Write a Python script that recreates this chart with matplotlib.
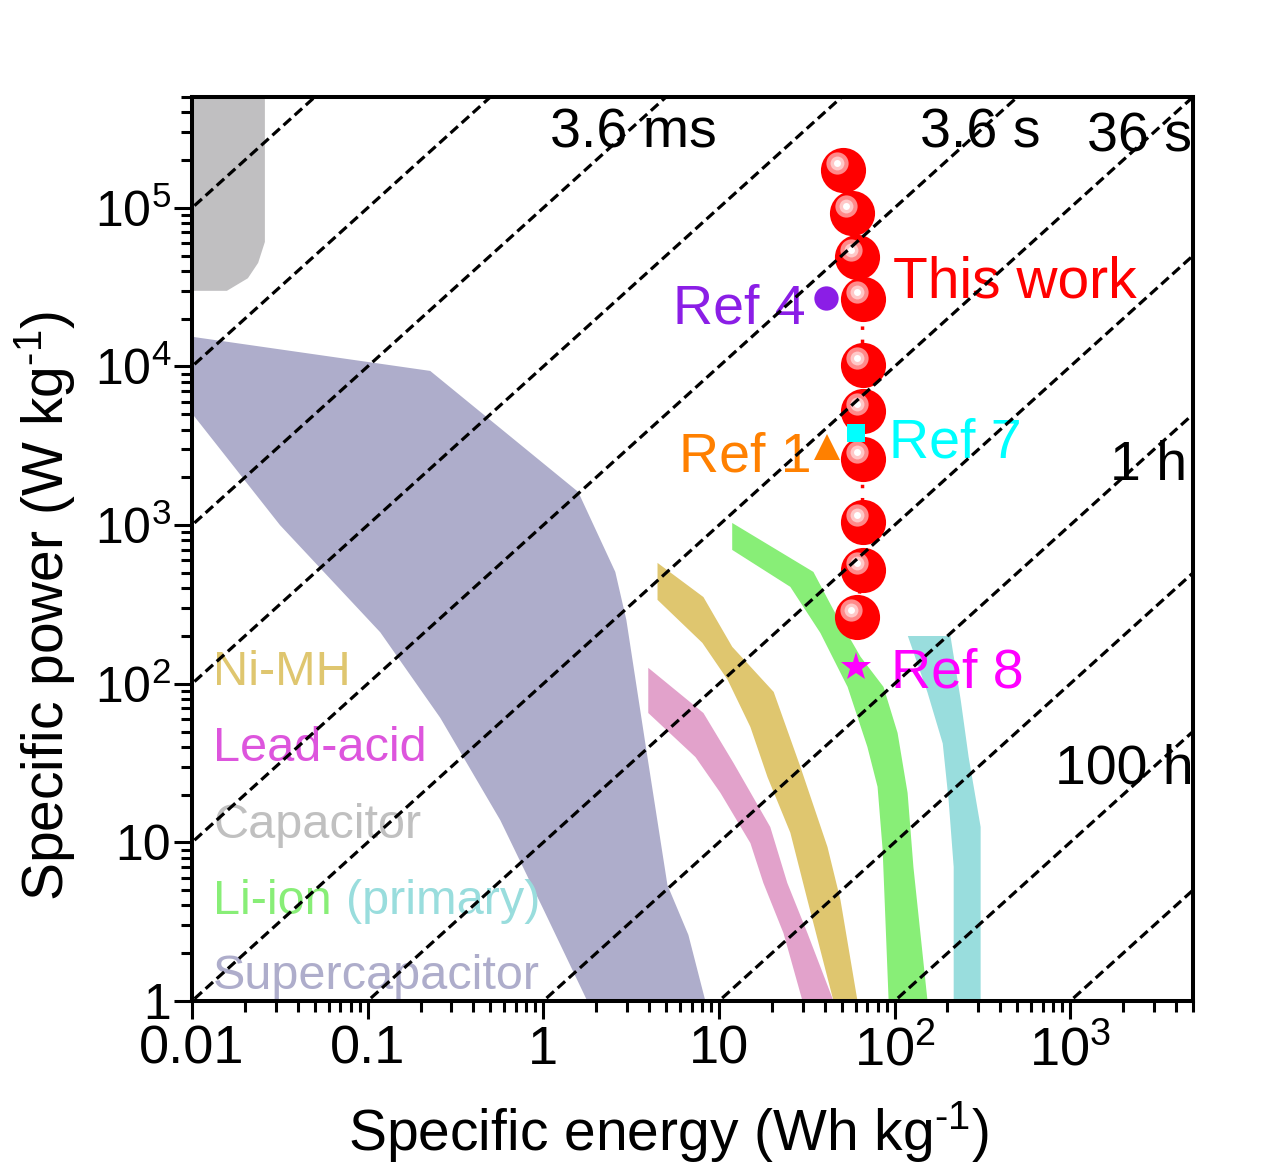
import numpy as np
import matplotlib
matplotlib.use("Agg")
import matplotlib.pyplot as plt
from matplotlib.transforms import ScaledTranslation
from matplotlib.ticker import LogLocator, NullFormatter, FixedLocator, FixedFormatter

plt.rcParams['font.family'] = ['Liberation Sans', 'DejaVu Sans']
plt.rcParams['mathtext.fontset'] = 'custom'
plt.rcParams['mathtext.rm'] = 'Liberation Sans'
plt.rcParams['mathtext.it'] = 'Liberation Sans:italic'
plt.rcParams['mathtext.default'] = 'regular'
plt.rcParams['lines.scale_dashes'] = False

# ---------------- data (E in Wh/kg, P in W/kg) ----------------
cap_E = [0.01, 0.026, 0.026, 0.0238, 0.0208, 0.0158, 0.01]
cap_P = [1e6, 1e6, 6.1e4, 4.5e4, 3.6e4, 3.0e4, 3.0e4]

sc_upper_E = [0.01, 0.227, 1.58, 2.57, 2.97, 3.86, 5.09, 6.70, 8.37]
sc_upper_P = [1.54e4, 9380, 1620, 507, 253, 38.3, 5.39, 2.61, 1]
sc_lower_E = [0.01, 0.0317, 0.118, 0.259, 0.569, 1.0, 1.78]
sc_lower_P = [5060, 1000, 211, 61, 13.8, 3.8, 1]

nimh_upper_E = [4.47, 8.16, 11.9, 20.5, 29.1, 41.5, 49.2, 61.5]
nimh_upper_P = [578, 352, 171, 88.8, 29.9, 9.35, 4.33, 1]
nimh_lower_E = [4.47, 8.05, 11.2, 15.1, 18.9, 25.5, 31.9, 44.9]
nimh_lower_P = [338, 181, 106, 53.4, 25.8, 11.5, 4.33, 1]

pb_upper_E = [3.96, 8.16, 12.1, 19.6, 24.5, 31.9, 44.9]
pb_upper_P = [126, 65.4, 31.7, 12.5, 5.55, 2.68, 1]
pb_lower_E = [3.96, 7.35, 10.2, 15.1, 17.9, 23.3, 29.9]
pb_lower_P = [65.4, 34.5, 20.5, 9.9, 5.55, 2.68, 1]

li_upper_E = [11.9, 34.5, 44.9, 64, 86.5, 104, 118.6, 128, 154]
li_upper_P = [1032, 507, 292, 148, 95.5, 49, 20.5, 7.0, 1]
li_lower_E = [11.9, 25.5, 37.8, 54, 70, 80, 85.5, 92.5]
li_lower_P = [698, 408, 209, 95.5, 40, 22.4, 9.0, 1]

lip_left_E = [119, 154, 188, 203, 217, 217]
lip_left_P = [200, 88, 42, 18.5, 7, 1]
lip_right_E = [309, 309, 264, 238, 208]
lip_right_P = [1, 12.5, 34.5, 79, 200]

# constant discharge-time lines (hours)
times_h = [1e-7, 1e-6, 1e-5, 1e-4, 1e-3, 1e-2, 1e-1, 1, 10, 100, 1000]

# This work
tw_E = [50.6, 56.9, 61.5, 65.7, 65.7, 65.7, 65.7, 65.7, 65.7, 60.7]
tw_P = [1.74e5, 9.3e4, 4.91e4, 2.67e4, 1.02e4, 5250, 2610, 1048, 522, 264]

ref4_E, ref4_P = [40.5], [2.71e4]
ref1_E, ref1_P = [41.0], [3110]
ref7_E, ref7_P = [60.0], [3810]
ref8_E, ref8_P = [60.0], [128]

xticks = [0.01, 0.1, 1, 10, 100, 1000]
xtick_labels = ['0.01', '0.1', '1', '10', '10$^2$', '10$^3$']
yticks = [1, 10, 100, 1e3, 1e4, 1e5]
ytick_labels = ['1', '10', '10$^2$', '10$^3$', '10$^4$', '10$^5$']

# ---------------- colours ----------------
c_cap = '#c0bfc1'
c_sc = '#aeadcb'
c_nimh = '#dfc66f'
c_pb = '#e2a2cb'
c_pb_txt = '#dd55dd'
c_li = '#88ee77'
c_lip = '#99dddd'

fig = plt.figure(figsize=(12.8, 11.68), dpi=100)
ax = fig.add_axes([192/1280, 167/1168, 1001/1280, 904/1168])
ax.set_xscale('log')
ax.set_yscale('log')
ax.set_xlim(0.01, 5000)
ax.set_ylim(1, 5e5)

ax.fill(cap_E, cap_P, color=c_cap, lw=0, zorder=1)
ax.fill(sc_upper_E + sc_lower_E[::-1], sc_upper_P + sc_lower_P[::-1], color=c_sc, lw=0, zorder=1)
ax.fill(nimh_upper_E + nimh_lower_E[::-1], nimh_upper_P + nimh_lower_P[::-1], color=c_nimh, lw=0, zorder=1)
ax.fill(pb_upper_E + pb_lower_E[::-1], pb_upper_P + pb_lower_P[::-1], color=c_pb, lw=0, zorder=1)
ax.fill(li_upper_E + li_lower_E[::-1], li_upper_P + li_lower_P[::-1], color=c_li, lw=0, zorder=1)
ax.fill(lip_left_E + lip_right_E, lip_left_P + lip_right_P, color=c_lip, lw=0, zorder=1)

# dashed iso-time lines
E_line = np.logspace(-3, 4.5, 60)
for t in times_h:
    ax.plot(E_line, E_line / t, color='black', lw=2.3, ls=(0, (7.2, 3.6)), zorder=6)

# this work
ax.plot(tw_E, tw_P, color='red', lw=2.5, ls=(0, (2.5, 7)), zorder=2)
ax.scatter(tw_E, tw_P, s=32.5**2, color='#ff0000', lw=0, zorder=3)
off = ax.transData + ScaledTranslation(-0.06, 0.07, fig.dpi_scale_trans)
ax.scatter(tw_E, tw_P, s=16.0**2, color='#ff8a8a', lw=0, zorder=3.1, transform=off)
ax.scatter(tw_E, tw_P, s=10.0**2, color='#ffc8c8', lw=0, zorder=3.2, transform=off)
ax.scatter(tw_E, tw_P, s=5.0**2, color='#ffffff', lw=0, zorder=3.3, transform=off)

# references
ax.plot(ref4_E, ref4_P, 'o', color='#8b1ee6', ms=17.5, mew=0, zorder=3)
ax.plot(ref1_E, ref1_P, '^', color='#ff8000', ms=19, mew=0, zorder=3)
ax.plot(ref7_E, ref7_P, 's', color='#00ffff', ms=13.5, mew=0, zorder=3.5)
ax.plot(ref8_E, ref8_P, '*', color='#ff00ff', ms=22, mew=0, zorder=3)

# texts (axes-fraction coordinates)
def fx(px):
    return (px - 192) / 1001

def fy(py):
    return (1001 - py) / 904

tk = dict(transform=ax.transAxes, va='baseline', zorder=5)
fs = 40
ax.text(fx(550), fy(148), '3.6 ms', fontsize=fs, ha='left', color='black', **tk)
ax.text(fx(920), fy(148), '3.6 s', fontsize=fs, ha='left', color='black', **tk)
ax.text(fx(1087), fy(152), '36 s', fontsize=fs, ha='left', color='black', **tk)
ax.text(fx(1110), fy(480), '1 h', fontsize=fs, ha='left', color='black', **tk)
ax.text(fx(1055), fy(783), '100 h', fontsize=fs, ha='left', color='black', **tk)
ax.text(fx(893), fy(298), 'This work', fontsize=41, ha='left', color='#ff0000', **tk)
ax.text(fx(806), fy(323), 'Ref 4', fontsize=fs, ha='right', color='#8b1ee6', **tk)
ax.text(fx(812), fy(472), 'Ref 1', fontsize=fs, ha='right', color='#ff8000', **tk)
ax.text(fx(889), fy(457), 'Ref 7', fontsize=fs, ha='left', color='#00ffff', **tk)
ax.text(fx(891), fy(688), 'Ref 8', fontsize=fs, ha='left', color='#ff00ff', **tk)

ls = 35
ax.text(fx(213), fy(685), 'Ni-MH', fontsize=ls, ha='left', color=c_nimh, **tk)
ax.text(fx(213), fy(761), 'Lead-acid', fontsize=ls, ha='left', color=c_pb_txt, **tk)
ax.text(fx(213), fy(838), 'Capacitor', fontsize=ls, ha='left', color='#c0c0c0', **tk)
ax.text(fx(213), fy(914), 'Li-ion', fontsize=ls, ha='left', color=c_li, **tk)
ax.text(fx(346), fy(914), '(primary)', fontsize=ls, ha='left', color=c_lip, **tk)
ax.text(fx(213), fy(989), 'Supercapacitor', fontsize=ls, ha='left', color=c_sc, **tk)

# axes styling
for sp in ax.spines.values():
    sp.set_linewidth(2.9)
    sp.set_zorder(7)

ax.xaxis.set_major_locator(FixedLocator(xticks))
ax.xaxis.set_major_formatter(FixedFormatter(xtick_labels))
ax.yaxis.set_major_locator(FixedLocator(yticks))
ax.yaxis.set_major_formatter(FixedFormatter(ytick_labels))
ax.xaxis.set_minor_locator(LogLocator(base=10, subs=np.arange(2, 10), numticks=20))
ax.yaxis.set_minor_locator(LogLocator(base=10, subs=np.arange(2, 10), numticks=20))
ax.xaxis.set_minor_formatter(NullFormatter())
ax.yaxis.set_minor_formatter(NullFormatter())

ax.tick_params(which='major', direction='out', length=13, width=2.2, top=False, right=False)
ax.tick_params(which='minor', direction='out', length=8, width=2.2, top=False, right=False)
ax.tick_params(axis='x', which='major', labelsize=39, pad=4)
ax.tick_params(axis='y', which='major', labelsize=36, pad=2)

ax.set_xlabel('Specific energy (Wh kg$^{\\text{-}1}$)', fontsize=41)
ax.set_ylabel('Specific power (W kg$^{\\text{-}1}$)', fontsize=41)
ax.xaxis.label.set_va('baseline')
ax.xaxis.set_label_coords(fx(668), fy(1150))
ax.yaxis.label.set_va('baseline')
ax.yaxis.set_label_coords(fx(63), fy(606))

fig.savefig('out.png', dpi=100)
